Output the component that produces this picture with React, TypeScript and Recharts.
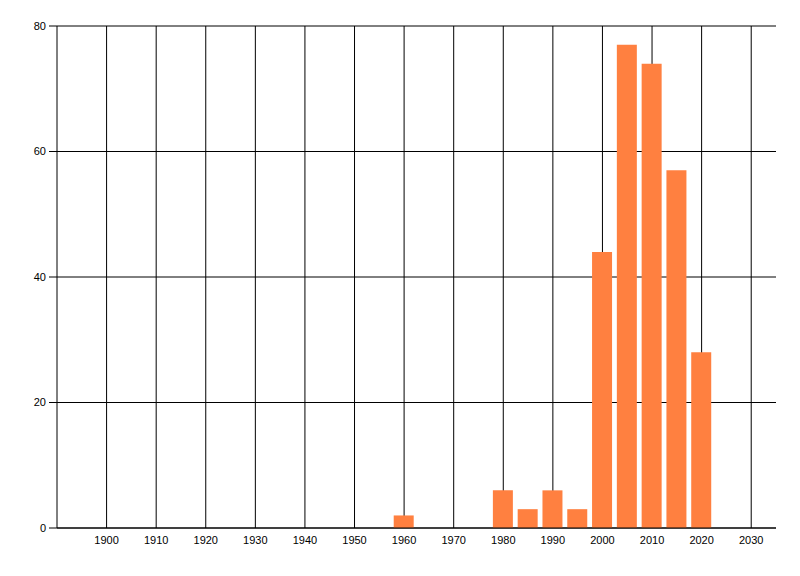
import React from "react";
import { BarChart, Bar, XAxis, YAxis, CartesianGrid } from "recharts";

// publications per five-year bucket
const years = [1960, 1980, 1985, 1990, 1995, 2000, 2005, 2010, 2015, 2020];
const counts = [2, 6, 3, 6, 3, 44, 77, 74, 57, 28];

const xTicks = [1900, 1910, 1920, 1930, 1940, 1950, 1960, 1970, 1980, 1990, 2000, 2010, 2020, 2030];
const yTicks = [0, 20, 40, 60, 80];

const data = years.map((year, i) => ({ year, count: counts[i] }));

const tickStyle = { fontSize: 11, fill: "#000", fontFamily: "'Liberation Sans', Arial, sans-serif" };

export default function App() {
    return (
        <div style={{ position: "absolute", left: 0, top: 0, width: 800, height: 576, background: "#fff" }}>
            <BarChart
                width={800}
                height={576}
                data={data}
                margin={{ top: 26, right: 24, left: 0, bottom: 0 }}
                barSize={20}
            >
                {/* syncWithTicks keeps the grid off the right edge */}
                <CartesianGrid stroke="#000" strokeWidth={1} syncWithTicks />
                <XAxis
                    dataKey="year"
                    type="number"
                    domain={[1890, 2035]}
                    ticks={xTicks}
                    interval={0}
                    height={48}
                    tick={tickStyle}
                    tickLine={false}
                    tickSize={0}
                    tickMargin={8}
                    axisLine={{ stroke: "#000", strokeWidth: 1 }}
                />
                <YAxis
                    type="number"
                    domain={[0, 80]}
                    ticks={yTicks}
                    interval={0}
                    width={57}
                    tick={tickStyle}
                    tickSize={8}
                    tickMargin={3}
                    tickLine={{ stroke: "#000" }}
                    axisLine={{ stroke: "#000", strokeWidth: 1 }}
                />
                <Bar dataKey="count" fill="#ff8040" isAnimationActive={false} />
            </BarChart>
        </div>
    );
}
